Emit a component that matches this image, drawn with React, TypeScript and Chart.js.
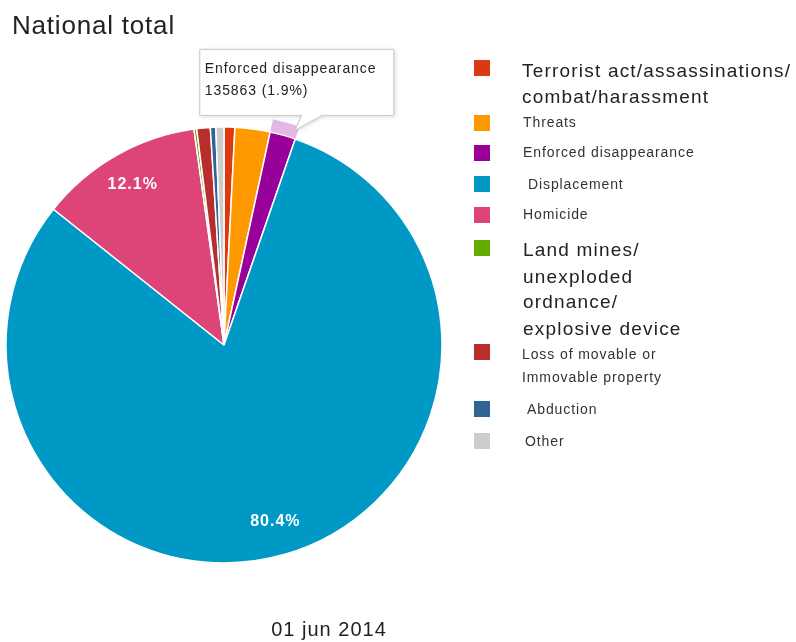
import React, { useEffect, useRef } from "react";
import { Chart, registerables } from "chart.js";

Chart.register(...registerables);

const TITLE = "National total";
const DATE_LABEL = "01 jun 2014";

const CATEGORIES = [
  "Terrorist act/assassinations/combat/harassment",
  "Threats",
  "Enforced disappearance",
  "Displacement",
  "Homicide",
  "Land mines/unexploded ordnance/explosive device",
  "Loss of movable or immovable property",
  "Abduction",
  "Other",
];

const LEGEND_LINES = [
  ["Terrorist act/assassinations/", "combat/harassment"],
  ["Threats"],
  ["Enforced disappearance"],
  ["Displacement"],
  ["Homicide"],
  ["Land mines/", "unexploded", "ordnance/", "explosive device"],
  ["Loss of movable or", "Immovable property"],
  ["Abduction"],
  ["Other"],
];

const VALUES = [57200, 185900, 135863, 5748600, 865150, 14300, 71500, 28600, 42900];

const COLORS = [
  "#dc3912",
  "#ff9900",
  "#990099",
  "#0099c6",
  "#dd4477",
  "#66aa00",
  "#b82e2e",
  "#316395",
  "#cccccc",
];

const HIGHLIGHT_INDEX = 2;
const LABEL_THRESHOLD_PCT = 5;

const FONT = '"Liberation Sans", Arial, sans-serif';

// legend layout (style only)
const LEGEND_LAYOUT = [
  { box: 60, lines: [72, 98], x: 522, big: true },
  { box: 115, lines: [123], x: 523, big: false },
  { box: 145, lines: [153], x: 523, big: false },
  { box: 176, lines: [185], x: 528, big: false },
  { box: 207, lines: [215], x: 523, big: false },
  { box: 240, lines: [251, 278, 303, 330], x: 523, big: true },
  { box: 344, lines: [355, 378], x: 522, big: false },
  { box: 401, lines: [410], x: 527, big: false },
  { box: 433, lines: [442], x: 525, big: false },
];

function setSpacing(ctx: any, v: string) {
  try {
    ctx.letterSpacing = v;
  } catch (e) {}
}

const overlayPlugin = {
  id: "overlay",
  afterDatasetsDraw(chart: any) {
    const ctx = chart.ctx;
    const meta = chart.getDatasetMeta(0);
    const total = VALUES.reduce((a, b) => a + b, 0);

    // hover ring on highlighted slice
    const hl = meta.data[HIGHLIGHT_INDEX];
    if (hl) {
      const { x, y, startAngle, endAngle, outerRadius } = hl.getProps(
        ["x", "y", "startAngle", "endAngle", "outerRadius"],
        true
      );
      ctx.save();
      ctx.beginPath();
      ctx.arc(x, y, outerRadius + 13, startAngle, endAngle);
      ctx.arc(x, y, outerRadius + 0.5, endAngle, startAngle, true);
      ctx.closePath();
      ctx.fillStyle = "rgba(153,0,153,0.28)";
      ctx.fill();
      ctx.restore();
    }

    // percentage labels
    ctx.save();
    ctx.fillStyle = "#ffffff";
    ctx.font = `bold 16px ${FONT}`;
    ctx.textAlign = "center";
    ctx.textBaseline = "middle";
    setSpacing(ctx, "1px");
    meta.data.forEach((arc: any, i: number) => {
      const pct = (VALUES[i] / total) * 100;
      if (pct < LABEL_THRESHOLD_PCT) return;
      const { x, y, startAngle, endAngle, outerRadius } = arc.getProps(
        ["x", "y", "startAngle", "endAngle", "outerRadius"],
        true
      );
      const mid = (startAngle + endAngle) / 2;
      const d = outerRadius * 0.845;
      ctx.fillText(pct.toFixed(1) + "%", x + Math.cos(mid) * d, y + Math.sin(mid) * d);
    });
    ctx.restore();
  },
  afterDraw(chart: any) {
    const ctx = chart.ctx;
    const meta = chart.getDatasetMeta(0);
    const total = VALUES.reduce((a, b) => a + b, 0);

    // title
    ctx.save();
    ctx.fillStyle = "#222222";
    ctx.font = `26px ${FONT}`;
    ctx.textAlign = "left";
    ctx.textBaseline = "alphabetic";
    setSpacing(ctx, "0.8px");
    ctx.fillText(TITLE, 12, 34);
    ctx.restore();

    // date
    ctx.save();
    ctx.fillStyle = "#222222";
    ctx.font = `20px ${FONT}`;
    ctx.textAlign = "center";
    ctx.textBaseline = "middle";
    setSpacing(ctx, "1px");
    ctx.fillText(DATE_LABEL, 329, 630);
    ctx.restore();

    // legend
    ctx.save();
    LEGEND_LINES.forEach((lines, i) => {
      const lay = LEGEND_LAYOUT[i];
      ctx.fillStyle = COLORS[i];
      ctx.fillRect(474, lay.box, 16, 16);
      ctx.fillStyle = lay.big ? "#222222" : "#333333";
      ctx.font = lay.big ? `19px ${FONT}` : `14px ${FONT}`;
      setSpacing(ctx, lay.big ? "1.2px" : "0.9px");
      ctx.textAlign = "left";
      ctx.textBaseline = "middle";
      lines.forEach((t, j) => ctx.fillText(t, lay.x, lay.lines[j]));
    });
    ctx.restore();

    // tooltip callout for highlighted slice
    const hl = meta.data[HIGHLIGHT_INDEX];
    if (hl) {
      const { x, y, startAngle, endAngle, outerRadius } = hl.getProps(
        ["x", "y", "startAngle", "endAngle", "outerRadius"],
        true
      );
      const a = endAngle - (endAngle - startAngle) * 0.12;
      const tx = x + Math.cos(a) * (outerRadius + 8);
      const ty = y + Math.sin(a) * (outerRadius + 8);
      const bx = tx - 95;
      const by = ty - 81;
      const bw = 194;
      const bh = 66;
      const bottom = by + bh;
      ctx.save();
      ctx.shadowColor = "rgba(0,0,0,0.18)";
      ctx.shadowBlur = 4;
      ctx.shadowOffsetX = 1;
      ctx.shadowOffsetY = 1;
      ctx.fillStyle = "#ffffff";
      ctx.strokeStyle = "#c8c8c8";
      ctx.lineWidth = 1;
      ctx.beginPath();
      ctx.moveTo(bx, by);
      ctx.lineTo(bx + bw, by);
      ctx.lineTo(bx + bw, bottom);
      ctx.lineTo(tx + 27, bottom);
      ctx.lineTo(tx, ty);
      ctx.lineTo(tx + 7, bottom);
      ctx.lineTo(bx, bottom);
      ctx.closePath();
      ctx.fill();
      ctx.shadowColor = "transparent";
      ctx.stroke();
      ctx.restore();

      const pct = (VALUES[HIGHLIGHT_INDEX] / total) * 100;
      ctx.save();
      ctx.fillStyle = "#222222";
      ctx.font = `14px ${FONT}`;
      setSpacing(ctx, "0.9px");
      ctx.textAlign = "left";
      ctx.textBaseline = "middle";
      ctx.fillText(LEGEND_LINES[HIGHLIGHT_INDEX].join(" "), bx + 5, by + 20);
      ctx.fillText(`${VALUES[HIGHLIGHT_INDEX]} (${pct.toFixed(1)}%)`, bx + 5, by + 42);
      ctx.restore();
    }
  },
};

export default function App() {
  const ref = useRef<HTMLCanvasElement | null>(null);
  useEffect(() => {
    if (!ref.current) return;
    const chart = new Chart(ref.current, {
      type: "pie",
      data: {
        labels: CATEGORIES,
        datasets: [
          {
            data: VALUES,
            backgroundColor: COLORS,
            borderColor: "#ffffff",
            borderWidth: 1.5,
            hoverOffset: 0,
          },
        ],
      },
      options: {
        animation: false,
        responsive: true,
        maintainAspectRatio: false,
        events: [],
        layout: {
          padding: { left: 5.25, top: 126.25, right: 353.25, bottom: 78.25 },
        },
        plugins: {
          legend: { display: false },
          tooltip: { enabled: false },
          title: { display: false },
        },
      },
      plugins: [overlayPlugin],
    });
    return () => chart.destroy();
  }, []);
  return (
    <div
      style={{
        position: "absolute",
        left: 0,
        top: 0,
        width: 796,
        height: 642,
        background: "#ffffff",
      }}
    >
      <canvas ref={ref} />
    </div>
  );
}
